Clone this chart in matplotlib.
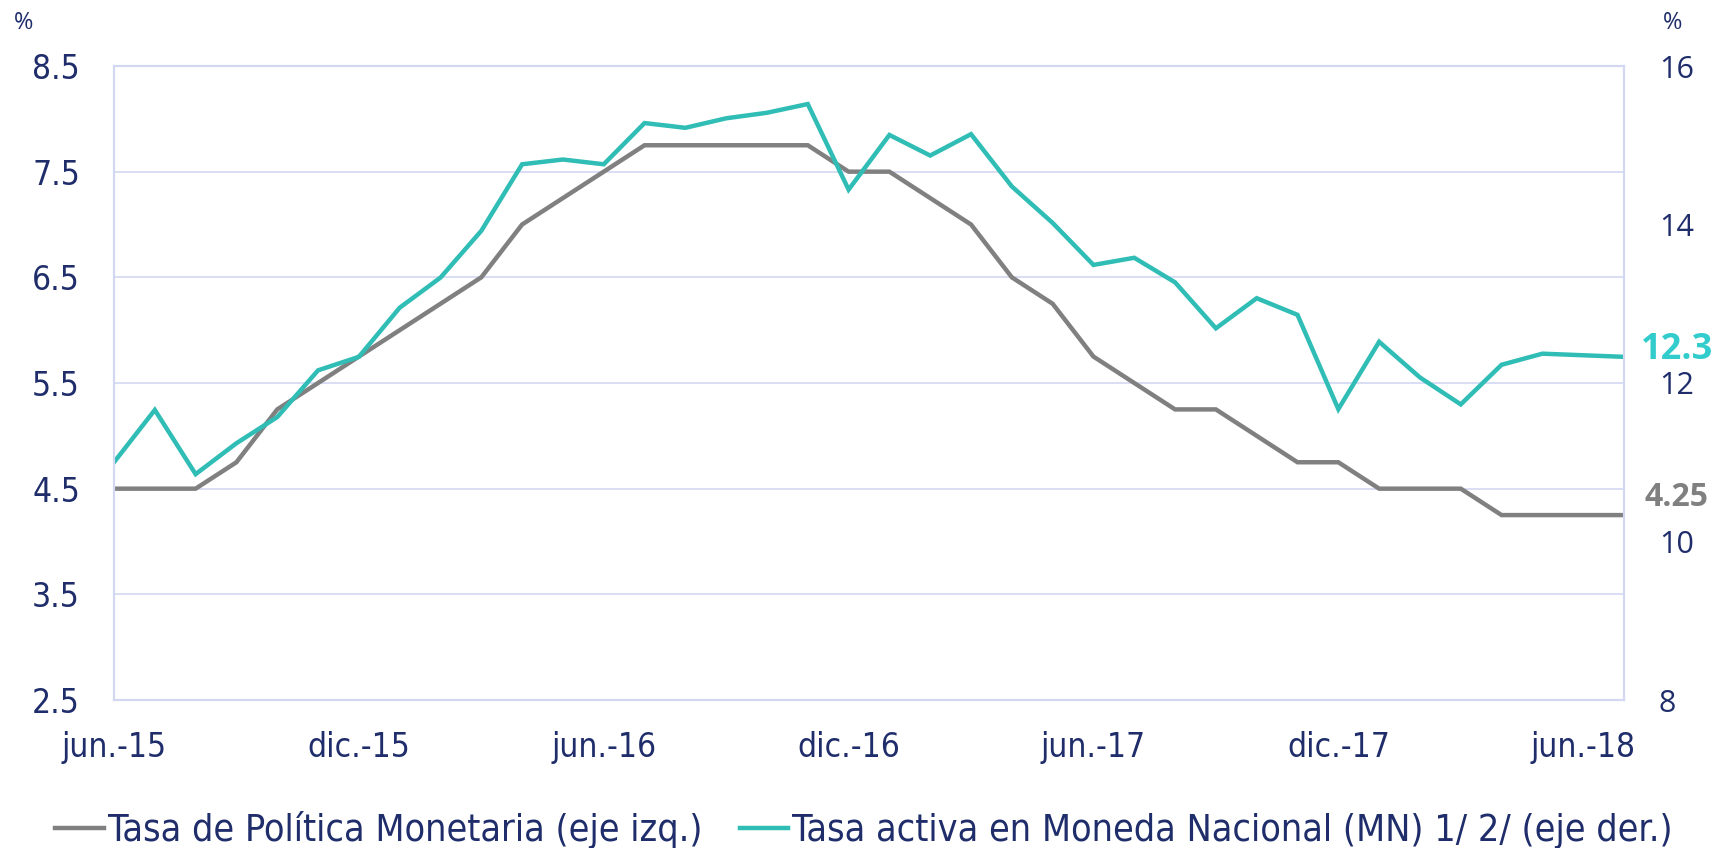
import matplotlib
matplotlib.use("Agg")
import matplotlib.pyplot as plt
from matplotlib import font_manager
import numpy as np

# monthly data, jun.-15 to jul.-18
months = ["jun.-15", "jul.-15", "ago.-15", "sep.-15", "oct.-15", "nov.-15",
          "dic.-15", "ene.-16", "feb.-16", "mar.-16", "abr.-16", "may.-16",
          "jun.-16", "jul.-16", "ago.-16", "sep.-16", "oct.-16", "nov.-16",
          "dic.-16", "ene.-17", "feb.-17", "mar.-17", "abr.-17", "may.-17",
          "jun.-17", "jul.-17", "ago.-17", "sep.-17", "oct.-17", "nov.-17",
          "dic.-17", "ene.-18", "feb.-18", "mar.-18", "abr.-18", "may.-18",
          "jun.-18", "jul.-18"]

tpm = [4.5, 4.5, 4.5, 4.75, 5.25, 5.5, 5.75, 6.0, 6.25, 6.5, 7.0, 7.25,
       7.5, 7.75, 7.75, 7.75, 7.75, 7.75, 7.5, 7.5, 7.25, 7.0, 6.5, 6.25,
       5.75, 5.5, 5.25, 5.25, 5.0, 4.75, 4.75, 4.5, 4.5, 4.5, 4.25, 4.25,
       4.25, 4.25]

tasa_mn = [11.0, 11.66, 10.85, 11.24, 11.57, 12.16, 12.33, 12.95, 13.33, 13.92,
           14.76, 14.82, 14.76, 15.28, 15.22, 15.34, 15.41, 15.52, 14.44, 15.13,
           14.87, 15.14, 14.48, 14.02, 13.49, 13.58, 13.27, 12.69, 13.07, 12.86,
           11.67, 12.52, 12.07, 11.73, 12.23, 12.37, 12.35, 12.33]

tick_idx = [0, 6, 12, 18, 24, 30, 36]
left_ticks = [2.5, 3.5, 4.5, 5.5, 6.5, 7.5, 8.5]
right_ticks = [8, 10, 12, 14, 16]

NAVY = "#1f2d6b"
GRAY = "#808080"
TEAL = "#2fbdb5"
TEAL_LBL = "#33cccc"
GRID = "#d3d8f2"

available = {f.name for f in font_manager.fontManager.ttflist}
narrow = "Liberation Sans Narrow" if "Liberation Sans Narrow" in available else "DejaVu Sans"
plt.rcParams["font.family"] = [narrow, "DejaVu Sans"]
plt.rcParams["font.stretch"] = "condensed"
OPEN = ["Open Sans", "DejaVu Sans"]

fig = plt.figure(figsize=(17.19, 8.48), dpi=100)
ax = fig.add_axes([114 / 1719, 1 - 700 / 848, (1624 - 114) / 1719, (700 - 66) / 848])
ax2 = ax.twinx()

x = np.arange(len(months))
l1, = ax.plot(x, tpm, color=GRAY, lw=3.2, solid_joinstyle="miter",
              label="Tasa de Política Monetaria (eje izq.)")
l2, = ax2.plot(x, tasa_mn, color=TEAL, lw=3.2, solid_joinstyle="miter",
               label="Tasa activa en Moneda Nacional (MN) 1/ 2/ (eje der.)")

ax.set_xlim(0, len(months) - 1)
ax.set_ylim(2.5, 8.5)
ax2.set_ylim(8, 16)
ax.set_yticks(left_ticks)
ax.set_yticklabels([f"{v:.1f}" for v in left_ticks])
ax2.set_yticks(right_ticks)
ax.set_xticks(tick_idx)
ax.set_xticklabels([months[i] for i in tick_idx])

ax.grid(axis="y", color=GRID, lw=1.2)
ax.set_axisbelow(True)
for a in (ax, ax2):
    for s in a.spines.values():
        s.set_color(GRID)
        s.set_linewidth(1.5)
    a.tick_params(length=0, colors=NAVY, labelsize=24)
ax.tick_params(axis="y", pad=24.5)
ax.tick_params(axis="x", pad=22)
ax2.tick_params(axis="y", pad=25)
for t in ax2.get_yticklabels():
    t.set_family(OPEN)
    t.set_fontstretch("normal")
    t.set_fontsize(22)

fig.text(14 / 1719, 1 - 23 / 848, "%", color=NAVY, fontsize=17, va="center",
         family=OPEN, fontstretch="normal")
fig.text(1663 / 1719, 1 - 23 / 848, "%", color=NAVY, fontsize=17, va="center",
         family=OPEN, fontstretch="normal")

# end-of-series labels
fig.text(1641 / 1719, 1 - 350 / 848, f"{tasa_mn[-1]:.1f}", color=TEAL_LBL, fontsize=26,
         fontweight="bold", va="center", family=OPEN, fontstretch="normal")
fig.text(1644 / 1719, 1 - 498 / 848, f"{tpm[-1]:.2f}", color=GRAY, fontsize=23,
         fontweight="bold", va="center", family=OPEN, fontstretch="normal")

fig.legend(handles=[l1, l2], loc="center", bbox_to_anchor=(864 / 1719, 1 - 830 / 848),
           ncol=2, frameon=False, fontsize=27, labelcolor=NAVY, handlelength=1.3,
           handletextpad=0.1, columnspacing=1.0)

fig.savefig("out.png", dpi=100)
